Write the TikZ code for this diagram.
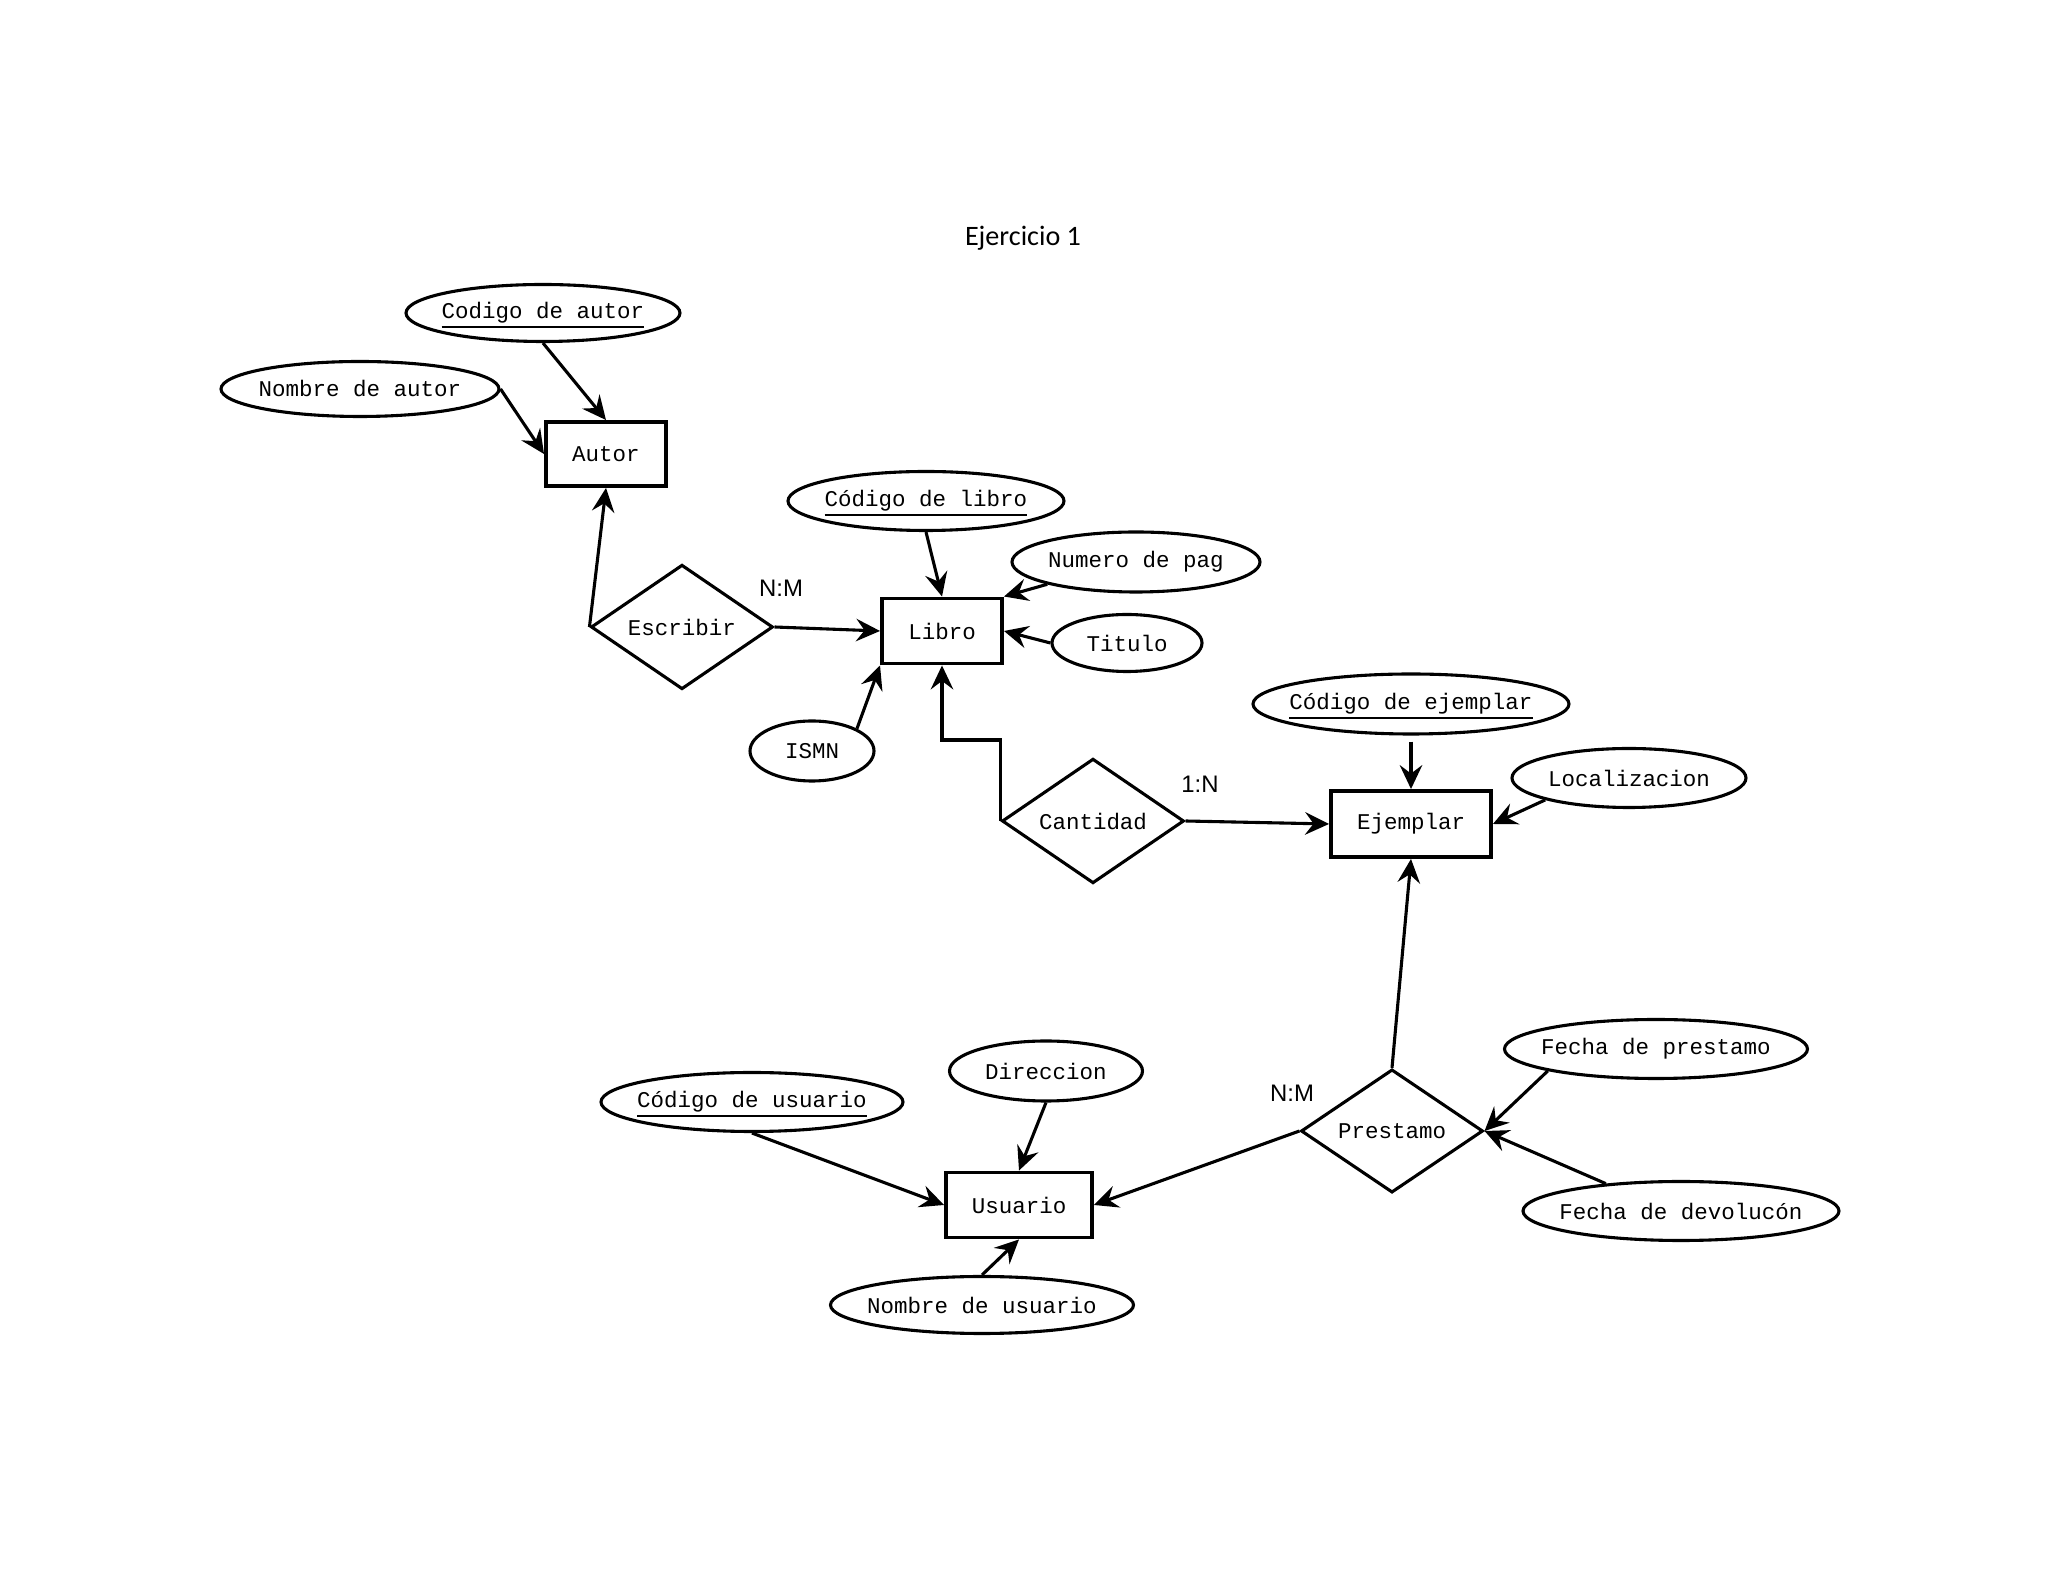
\documentclass[tikz,border=0pt]{standalone}
\usepackage{fontspec}
\setmainfont{Liberation Serif}
\newfontfamily\monof{Liberation Mono}
\newfontfamily\titlef{Carlito}
\newfontfamily\labf{Liberation Sans}
\usetikzlibrary{shapes.geometric,arrows.meta}
\newcommand\keyul[1]{\setbox0\hbox{#1}\leavevmode\rlap{\smash{\raisebox{-3.2pt}{\rule{\wd0}{0.75pt}}}}\box0}
\begin{document}
\begin{tikzpicture}[x=0.0125cm,y=-0.0125cm,
 attrtext/.style={font=\monof\fontsize{8}{10}\selectfont,inner sep=0pt},
 attr/.style n args={3}{ellipse,draw,line width=1.1pt,inner sep=0pt,
   minimum width=#1*0.0125cm,minimum height=#2*0.0125cm,
   label={[attrtext]center:{#3}}},
 ent/.style 2 args={rectangle,draw,line width=1.4pt,inner sep=0pt,
   minimum width=#1*0.0125cm,minimum height=#2*0.0125cm,
   font=\monof\fontsize{8}{10}\selectfont},
 rel/.style={diamond,draw,line width=1.1pt,inner sep=0pt,
   minimum width=182*0.0125cm,minimum height=110*0.0125cm,
   font=\monof\fontsize{8}{10}\selectfont},
 arr/.style={-{Stealth[length=8.5pt,width=8pt,inset=3pt]},line width=1.1pt},
 card/.style={font=\labf\fontsize{8.5}{10}\selectfont,inner sep=0pt}
]
\useasboundingbox (0,0) rectangle (2048,1582);
\fill[white] (0,0) rectangle (2048,1582);

\node[font=\titlef\fontsize{10}{12}\selectfont] (title) at (1023,238) {Ejercicio 1};

% Autor
\node[attr={274}{57}{\keyul{Codigo de autor}}] (ca) at (543,313) {};
\node[attr={278}{55}{Nombre de autor}] (na) at (360,389) {};
\node[ent={120}{64}] (autor) at (606,454) {Autor};

% Libro
\node[attr={276}{59}{\keyul{Código de libro}}] (cl) at (926,501) {};
\node[attr={248}{60}{Numero de pag}] (np) at (1136,562) {};
\node[ent={120}{65}] (libro) at (942,631) {Libro};
\node[attr={150}{57}{Titulo}] (tit) at (1127,643) {};
\node[attr={124}{60}{ISMN}] (ismn) at (812,751) {};
\node[rel] (esc) at (682,627) {Escribir};
\node[card] (nm1) at (781,588) {N:M};

% Ejemplar
\node[rel] (cant) at (1093,821) {Cantidad};
\node[card] (c1n) at (1200,784) {1:N};
\node[attr={316}{60}{\keyul{Código de ejemplar}}] (ce) at (1411,704) {};
\node[attr={234}{59}{Localizacion}] (loc) at (1629,778) {};
\node[ent={160}{66}] (ejem) at (1411,824) {Ejemplar};

% Prestamo
\node[rel] (prest) at (1392,1131) {Prestamo};
\node[card] (nm2) at (1292,1093) {N:M};
\node[attr={303}{59}{Fecha de prestamo}] (fp) at (1656,1049) {};
\node[attr={316}{59}{Fecha de devolucón}] (fd) at (1681,1211) {};

% Usuario
\node[ent={146}{65}] (usu) at (1019,1205) {Usuario};
\node[attr={193}{60}{Direccion}] (dir) at (1046,1071) {};
\node[attr={302}{59}{\keyul{Código de usuario}}] (cu) at (752,1102) {};
\node[attr={303}{57}{Nombre de usuario}] (nu) at (982,1305) {};

% connectors
\draw[arr] (ca.south) -- (autor.north);
\draw[arr] (na.east) -- (autor.west);
\draw[arr] (esc.west) -- (autor.south);
\draw[arr] (esc.east) -- (libro.west);
\draw[arr] (cl.south) -- (libro.north);
\draw[arr] (np.south west) -- (libro.north east);
\draw[arr] (tit.west) -- (libro.east);
\draw[arr] (ismn.north east) -- (libro.south west);
\draw[arr] (cant.west) -- ++(0,-81) -| (libro.south);
\draw[arr] (cant.east) -- (ejem.west);
\draw[arr] (ce.south) ++(0,6) -- (ejem.north);
\draw[arr] (loc.south west) -- (ejem.east);
\draw[arr] (prest.north) -- (ejem.south);
\draw[arr] (prest.west) -- (usu.east);
\draw[arr] (fp.south west) -- (prest.east);
\draw[arr] (fd.160) -- (prest.east);
\draw[arr] (dir.south) -- (usu.north);
\draw[arr] (cu.south) -- (usu.west);
\draw[arr] (nu.north) -- (usu.south);
\end{tikzpicture}
\end{document}
